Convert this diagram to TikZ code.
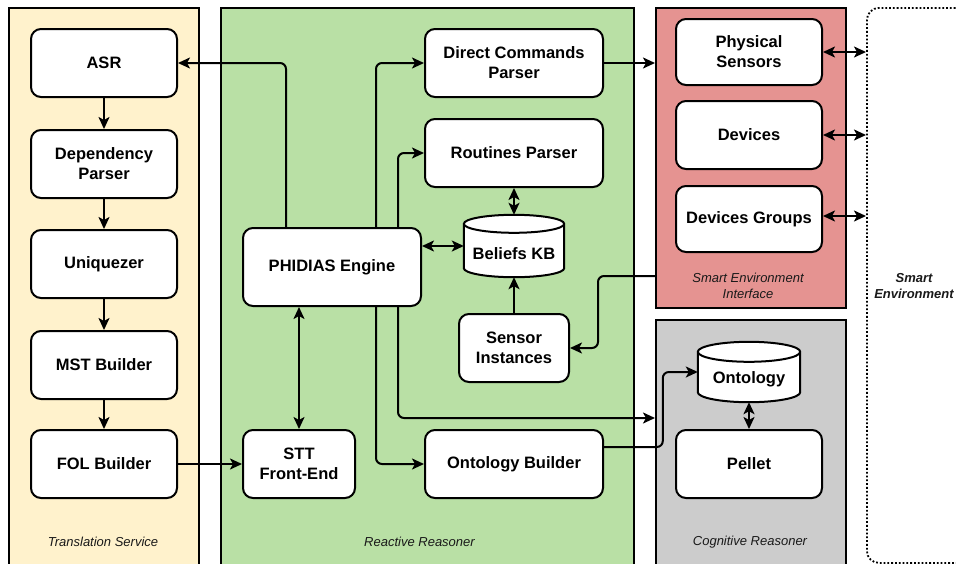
\documentclass[tikz,border=0pt]{standalone}
\usepackage{fontspec}
\setmainfont{Liberation Sans}
\usetikzlibrary{arrows.meta,calc}
\definecolor{tsfill}{HTML}{FFF2CC}
\definecolor{rrfill}{HTML}{B9E0A5}
\definecolor{seifill}{HTML}{E59391}
\definecolor{crfill}{HTML}{CCCCCC}
\tikzset{
  >={Stealth[length=12pt,width=11pt,inset=3pt]},
  box/.style={draw, fill=white, rounded corners=10pt, line width=2pt, inner sep=0pt,
    font=\fontsize{16.5}{20}\selectfont\bfseries, align=center},
  cylbox/.style={draw=none, inner sep=0pt},
  cyltext/.style={font=\fontsize{16.5}{20}\selectfont\bfseries, align=center, inner sep=0pt},
  container/.style={draw, line width=2pt, anchor=north west, inner sep=0pt},
  clabel/.style={font=\fontsize{13}{16.5}\selectfont\itshape, align=center, inner sep=0pt, text=black!90},
  linkbend/.style={draw, line width=2pt, ->, rounded corners=6pt},
  linkboth/.style={draw, line width=2pt, <->},
  linkone/.style={draw, line width=2pt, ->},
}
% cylinder outline drawn inside the bounding box of a named node
\newcommand\drawcylinder[2]{%
  \draw[line width=2pt, fill=white]
    let \p1=(#1.north west), \p2=(#1.south east), \n1={(\x2-\x1)/2} in
    (\x1,\y1-#2pt) -- (\x1,\y2+#2pt)
      arc[start angle=180,end angle=360,x radius=\n1,y radius=#2pt]
      -- (\x2,\y1-#2pt)
      arc[start angle=0,end angle=180,x radius=\n1,y radius=#2pt] -- cycle
    (\x1,\y1-#2pt) arc[start angle=180,end angle=360,x radius=\n1,y radius=#2pt];
}
\begin{document}
\begin{tikzpicture}[x=1pt,y=1pt]
\useasboundingbox (0,0) rectangle (956,-563);

% ---- containers ----
\node[container, fill=tsfill, minimum width=190pt, minimum height=570pt] (ts) at (8,-7) {};
\node[container, fill=rrfill, minimum width=413pt, minimum height=570pt] (rr) at (220,-7) {};
\node[container, fill=seifill, minimum width=190pt, minimum height=300pt] (sei) at (655,-7) {};
\node[container, fill=crfill, minimum width=190pt, minimum height=260pt] (cr) at (655,-319) {};
\node[container, draw, line width=1.8pt, dash pattern=on 1.8pt off 2pt, rounded corners=12pt,
      minimum width=150pt, minimum height=555pt] (se) at (866,-7) {};

\node[clabel] (tslbl) at (103,-542) {Translation Service};
\node[clabel] (rrlbl) at (419.5,-542) {Reactive Reasoner};
\node[clabel] (seilbl) at (748,-286) {Smart Environment\\Interface};
\node[clabel] (crlbl) at (750,-542) {Cognitive Reasoner};
\node[clabel, font=\fontsize{13}{16.5}\selectfont\bfseries\itshape] (selbl) at (914,-286) {Smart\\Environment};

% ---- translation service ----
\node[box, minimum width=146pt, minimum height=68pt] (asr) at (104,-63) {ASR};
\node[box, minimum width=146pt, minimum height=68pt] (dep) at (104,-164) {Dependency\\Parser};
\node[box, minimum width=146pt, minimum height=68pt] (uniq) at (104,-264) {Uniquezer};
\node[box, minimum width=146pt, minimum height=68pt] (mst) at (104,-365) {MST Builder};
\node[box, minimum width=146pt, minimum height=68pt] (fol) at (104,-464) {FOL Builder};

% ---- reactive reasoner ----
\node[box, minimum width=178pt, minimum height=78pt] (phi) at (332,-267) {PHIDIAS Engine};
\node[box, minimum width=112pt, minimum height=68pt] (stt) at (299,-464) {STT\\Front-End};
\node[box, minimum width=178pt, minimum height=68pt] (dcp) at (514,-63) {Direct Commands\\Parser};
\node[box, minimum width=178pt, minimum height=68pt] (rp) at (514,-153) {Routines Parser};
\node[cylbox, minimum width=100pt, minimum height=62pt] (bkb) at (514,-246) {};
\drawcylinder{bkb}{9}
\node[cyltext] (bkbt) at (514,-254) {Beliefs KB};
\node[box, minimum width=110pt, minimum height=68pt] (si) at (514,-348) {Sensor\\Instances};
\node[box, minimum width=178pt, minimum height=68pt] (ob) at (514,-464) {Ontology Builder};

% ---- smart environment interface ----
\node[box, minimum width=146pt, minimum height=66pt] (ps) at (749,-52) {Physical\\Sensors};
\node[box, minimum width=146pt, minimum height=68pt] (dev) at (749,-135) {Devices};
\node[box, minimum width=146pt, minimum height=66pt] (dg) at (749,-219) {Devices Groups};

% ---- cognitive reasoner ----
\node[cylbox, minimum width=102pt, minimum height=60pt] (onto) at (749,-372) {};
\drawcylinder{onto}{10}
\node[cyltext] (ontot) at (749,-379) {Ontology};
\node[box, minimum width=146pt, minimum height=68pt] (pel) at (749,-464) {Pellet};

% ---- connectors: translation pipeline ----
\path[linkone] (asr) -- (dep);
\path[linkone] (dep) -- (uniq);
\path[linkone] (uniq) -- (mst);
\path[linkone] (mst) -- (fol);
\path[linkone] (fol) -- (stt);

% ---- connectors: PHIDIAS engine ----
\path[linkbend] ($(phi.north west)+(44,0)$) |- (asr);
\path[linkbend] ($(phi.north west)+(134,0)$) |- (dcp);
\path[linkbend] ($(phi.north west)+(156,0)$) |- (rp);
\path[linkbend] ($(phi.south west)+(134,0)$) |- (ob);
\path[linkbend] ($(phi.south west)+(156,0)$) |- ([yshift=32pt]cr.west);
\path[linkboth] (stt.north |- phi.south) -- (stt.north);
\path[linkboth] (bkb.west -| phi.east) -- (bkb.west);
\path[linkboth] (rp.south) -- (bkb.north);
\path[linkone] (si.north) -- (bkb.south);

% ---- connectors: environment interface ----
\path[linkone] (dcp.east) -- (dcp.east -| sei.west);
\path[linkbend] ([yshift=-118pt]sei.west) -| ($(si.east)+(28,0)$) -- (si.east);
\path[linkboth] (ps.east) -- (ps.east -| se.west);
\path[linkboth] (dev.east) -- (dev.east -| se.west);
\path[linkboth] ([yshift=3pt]dg.east) -- ([yshift=3pt]dg.east -| se.west);

% ---- connectors: cognitive reasoner ----
\path[linkbend] ([yshift=17pt]ob.east) -| ($(onto.west)+(-35,0)$) -- (onto.west);
\path[linkboth] (onto.south) -- (pel.north);
\end{tikzpicture}
\end{document}
